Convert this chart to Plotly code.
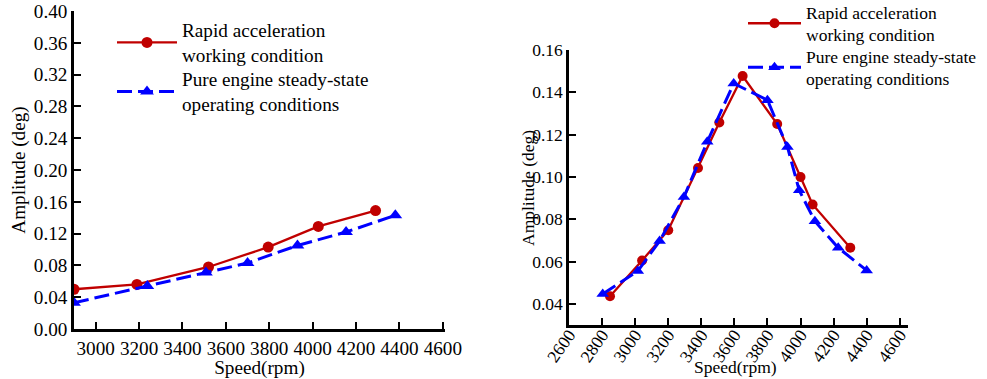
import plotly.graph_objects as go

# ---- data (left chart) ----
left_rapid_speed = [2900, 3190, 3520, 3795, 4026, 4290]
left_rapid_amp = [0.050, 0.056, 0.078, 0.103, 0.129, 0.149]
left_pure_speed = [2900, 3238, 3508, 3700, 3930, 4154, 4381]
left_pure_amp = [0.033, 0.054, 0.071, 0.083, 0.105, 0.122, 0.143]

# ---- data (right chart) ----
right_rapid_speed = [2848, 3042, 3200, 3380, 3509, 3650, 3859, 4000, 4073, 4301]
right_rapid_amp = [0.0436, 0.0605, 0.0748, 0.1042, 0.1257, 0.1477, 0.1250, 0.1000, 0.0870, 0.0665]
right_pure_speed = [2804, 3016, 3148, 3295, 3436, 3596, 3800, 3921, 3992, 4087, 4228, 4400]
right_pure_amp = [0.0447, 0.0555, 0.0697, 0.0905, 0.1166, 0.1442, 0.1363, 0.1142, 0.0937, 0.0791, 0.0665, 0.0558]

name_rapid = "Rapid acceleration<br>working condition"
name_pure = "Pure engine steady-state<br>operating conditions"

RED = "#C00000"
BLUE = "#0000FF"
W, H = 987, 379
FONT = "Liberation Serif"

fig = go.Figure()

fig.add_trace(go.Scatter(x=left_rapid_speed, y=left_rapid_amp, name=name_rapid,
                         mode="lines+markers", line=dict(color=RED, width=2.3),
                         marker=dict(symbol="circle", size=11, color=RED),
                         xaxis="x", yaxis="y", legend="legend"))
fig.add_trace(go.Scatter(x=left_pure_speed, y=left_pure_amp, name=name_pure,
                         mode="lines+markers", line=dict(color=BLUE, width=3, dash="15px,6px"),
                         marker=dict(symbol="triangle-up", size=12, color=BLUE),
                         xaxis="x", yaxis="y", legend="legend3"))
fig.add_trace(go.Scatter(x=right_rapid_speed, y=right_rapid_amp, name=name_rapid,
                         mode="lines+markers", line=dict(color=RED, width=2.3),
                         marker=dict(symbol="circle", size=10, color=RED),
                         xaxis="x2", yaxis="y2", legend="legend2"))
fig.add_trace(go.Scatter(x=right_pure_speed, y=right_pure_amp, name=name_pure,
                         mode="lines+markers", line=dict(color=BLUE, width=3, dash="15px,6px"),
                         marker=dict(symbol="triangle-up", size=11, color=BLUE),
                         xaxis="x2", yaxis="y2", legend="legend4"))

axis_common = dict(showline=True, linecolor="black", linewidth=2.5, ticks="inside",
                   ticklen=7, tickwidth=2, tickcolor="black", showgrid=False,
                   zeroline=False, mirror=False, automargin=False)

fsL = 19.2
fsR = 17.5


def leg(xpx, ypx, fs, iw):
    return dict(x=xpx / W, y=1 - ypx / H, xanchor="left", yanchor="top",
                bgcolor="rgba(0,0,0,0)", font=dict(size=fs, family=FONT),
                itemwidth=iw, tracegroupgap=0)


fig.update_layout(
    width=W, height=H, margin=dict(l=0, r=0, t=0, b=0, autoexpand=False),
    paper_bgcolor="white", plot_bgcolor="white",
    font=dict(family=FONT, color="black"),
    xaxis=dict(domain=[74 / W, 445 / W], range=[2900, 4610], tick0=3000, dtick=200,
               tickfont=dict(size=fsL), anchor="y",
               title=dict(text="Speed(rpm)", font=dict(size=fsL), standoff=0), **axis_common),
    yaxis=dict(domain=[(H - 329) / H, (H - 11) / H], range=[0, 0.40], dtick=0.04,
               tickformat=".2f", tickfont=dict(size=fsL), anchor="x",
               title=dict(text="Amplitude (deg)", font=dict(size=fsL), standoff=4), **axis_common),
    xaxis2=dict(domain=[569 / W, 908 / W], range=[2600, 4650], tick0=2600, dtick=200,
                tickangle=-55, tickfont=dict(size=fsR), anchor="y2", ticklabelstandoff=-10,
                **axis_common),
    yaxis2=dict(domain=[(H - 325) / H, (H - 50) / H], range=[0.03, 0.16], dtick=0.02,
                tickformat=".2f", tickfont=dict(size=fsR), anchor="x2", **axis_common),
    legend=leg(112, 11, fsL, 60),
    legend3=leg(112, 60, fsL, 60),
    legend2=leg(743, -6, fsR, 53),
    legend4=leg(743, 38, fsR, 53),
    annotations=[
        dict(text="Amplitude (deg)", textangle=-90, xref="paper", yref="paper",
             x=528 / W, y=1 - 188 / H, xanchor="center", yanchor="middle",
             showarrow=False, font=dict(size=fsR, family=FONT)),
        dict(text="Speed(rpm)", xref="paper", yref="paper",
             x=735 / W, y=1 - 367 / H, xanchor="center", yanchor="middle",
             showarrow=False, font=dict(size=fsR, family=FONT)),
    ],
    showlegend=True,
)

fig.write_html("out.html")
